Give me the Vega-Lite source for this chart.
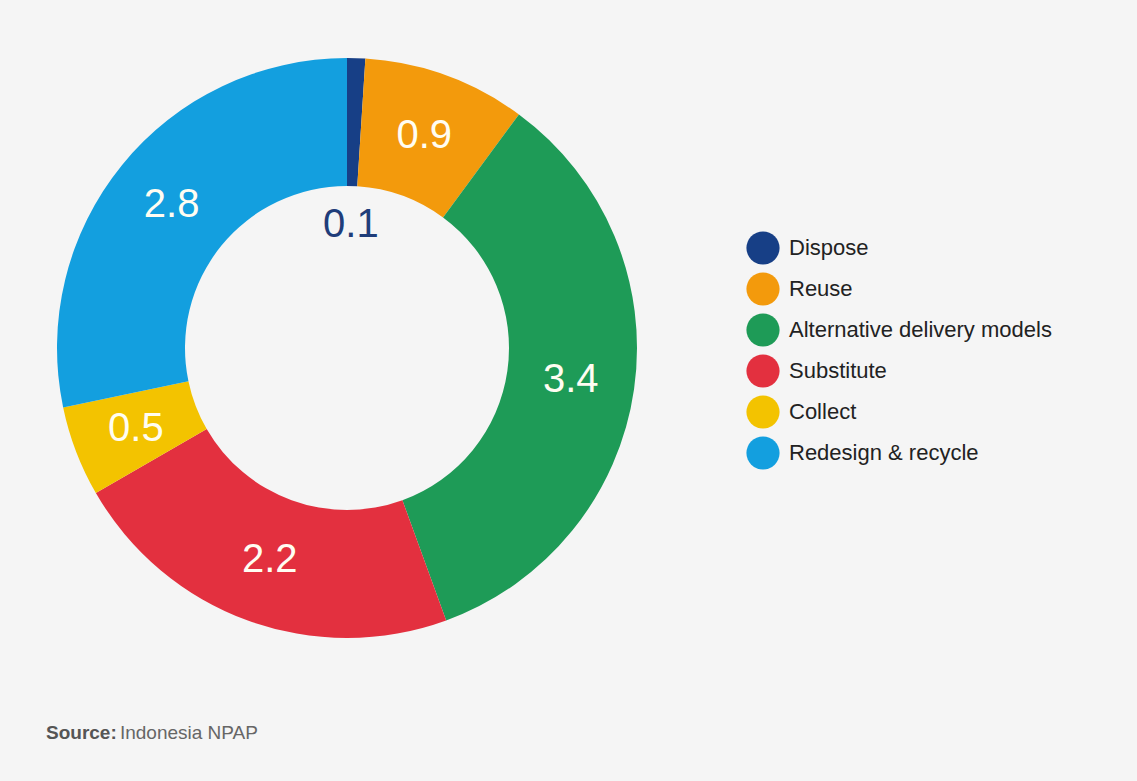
{
  "$schema": "https://vega.github.io/schema/vega-lite/v6.json",
  "autosize": {"type": "none"},
  "width": 694,
  "height": 696,
  "padding": {"left": 0, "top": 0, "right": 443, "bottom": 85},
  "background": "#f5f5f5",
  "config": {"view": {"stroke": null}},
  "title": {
    "text": "Source:",
    "subtitle": "\u200b\u00a0\u00a0\u00a0\u00a0\u00a0\u00a0\u00a0\u00a0\u00a0\u00a0\u00a0\u00a0\u00a0\u00a0Indonesia NPAP",
    "orient": "bottom",
    "anchor": "start",
    "frame": "group",
    "dx": 46,
    "offset": 28,
    "font": "Liberation Sans",
    "fontSize": 19,
    "fontWeight": "bold",
    "color": "#555555",
    "subtitleFont": "Liberation Sans",
    "subtitleFontSize": 19,
    "subtitleFontWeight": "normal",
    "subtitleColor": "#666666",
    "subtitlePadding": -19
  },
  "data": {
    "values": [
      {"cat": "Dispose", "value": 0.1, "idx": 1},
      {"cat": "Reuse", "value": 0.9, "idx": 2},
      {"cat": "Alternative delivery models", "value": 3.4, "idx": 3},
      {"cat": "Substitute", "value": 2.2, "idx": 4},
      {"cat": "Collect", "value": 0.5, "idx": 5},
      {"cat": "Redesign & recycle", "value": 2.8, "idx": 6}
    ]
  },
  "encoding": {
    "theta": {"field": "value", "type": "quantitative", "stack": true},
    "order": {"field": "idx", "type": "quantitative"}
  },
  "layer": [
    {
      "mark": {"type": "arc", "innerRadius": 162, "outerRadius": 290},
      "encoding": {
        "color": {
          "field": "cat",
          "type": "nominal",
          "sort": null,
          "scale": {
            "domain": ["Dispose", "Reuse", "Alternative delivery models", "Substitute", "Collect", "Redesign & recycle"],
            "range": ["#173f86", "#f39a0c", "#1e9b57", "#e3303f", "#f3c300", "#139fdf"]
          },
          "legend": {
            "title": null,
            "orient": "none",
            "legendX": 746,
            "legendY": 231,
            "symbolType": "circle",
            "symbolSize": 1100,
            "symbolStrokeWidth": 0,
            "labelFont": "Liberation Sans",
            "labelFontSize": 22,
            "labelColor": "#222222",
            "labelOffset": 9,
            "labelLimit": 400,
            "rowPadding": 7,
            "padding": 0
          }
        }
      }
    },
    {
      "mark": {"type": "text", "radius": 226, "font": "Liberation Sans", "fontSize": 40, "align": "center", "baseline": "middle"},
      "encoding": {
        "detail": {"field": "cat", "type": "nominal"},
        "text": {"field": "value", "type": "quantitative", "format": ".1f"},
        "color": {"value": "#fffdf2"},
        "opacity": {"condition": {"test": "datum.cat === 'Dispose'", "value": 0}, "value": 1}
      }
    },
    {
      "mark": {"type": "text", "radius": 123, "font": "Liberation Sans", "fontSize": 40, "align": "center", "baseline": "middle"},
      "encoding": {
        "detail": {"field": "cat", "type": "nominal"},
        "text": {"field": "value", "type": "quantitative", "format": ".1f"},
        "color": {"value": "#1f3d7a"},
        "opacity": {"condition": {"test": "datum.cat === 'Dispose'", "value": 1}, "value": 0}
      }
    }
  ]
}
